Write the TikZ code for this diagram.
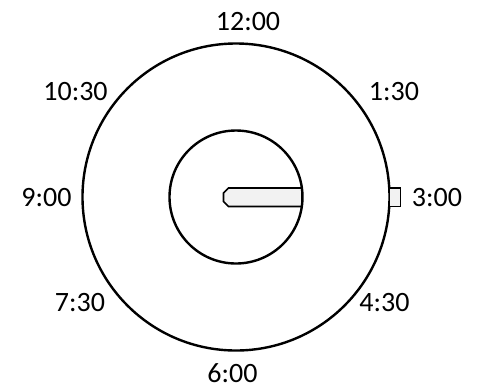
\documentclass[tikz,border=0pt]{standalone}
\usepackage{fontspec}
\setmainfont{Carlito}
\usetikzlibrary{calc}
\definecolor{handgray}{HTML}{F2F2F2}

\begin{document}
\begin{tikzpicture}[x=0.75pt,y=-0.75pt,
    dial/.style={draw=black,line width=1.8pt},
    hand/.style={draw=black,line width=1.3pt,fill=handgray},
    hour/.style={font=\fontsize{21}{25}\selectfont,inner sep=0pt}]
  \useasboundingbox (0,0) rectangle (478,387);
  \coordinate (c) at (236,197);
  % pointer in the inner disc
  \draw[hand] (302,188) -- (228.5,188) -- (223.5,193) -- (223.5,201.5) -- (228.5,206.5) -- (302,206.5) -- cycle;
  \draw[dial] (c) circle[radius=153.5];
  \draw[dial] (c) circle[radius=66.5];
  % mark at 3:00
  \draw[hand] (389.5,188) rectangle (400.5,206.5);
  \node[hour] (h12) at (248,21.5) {12:00};
  \node[hour] (h130) at (394,92) {1:30};
  \node[hour] (h3) at (437,197.5) {3:00};
  \node[hour] (h430) at (384.5,302.5) {4:30};
  \node[hour] (h6) at (232.5,373) {6:00};
  \node[hour] (h730) at (80,302.5) {7:30};
  \node[hour] (h9) at (46.5,197.5) {9:00};
  \node[hour] (h1030) at (75.5,92) {10:30};
\end{tikzpicture}
\end{document}
